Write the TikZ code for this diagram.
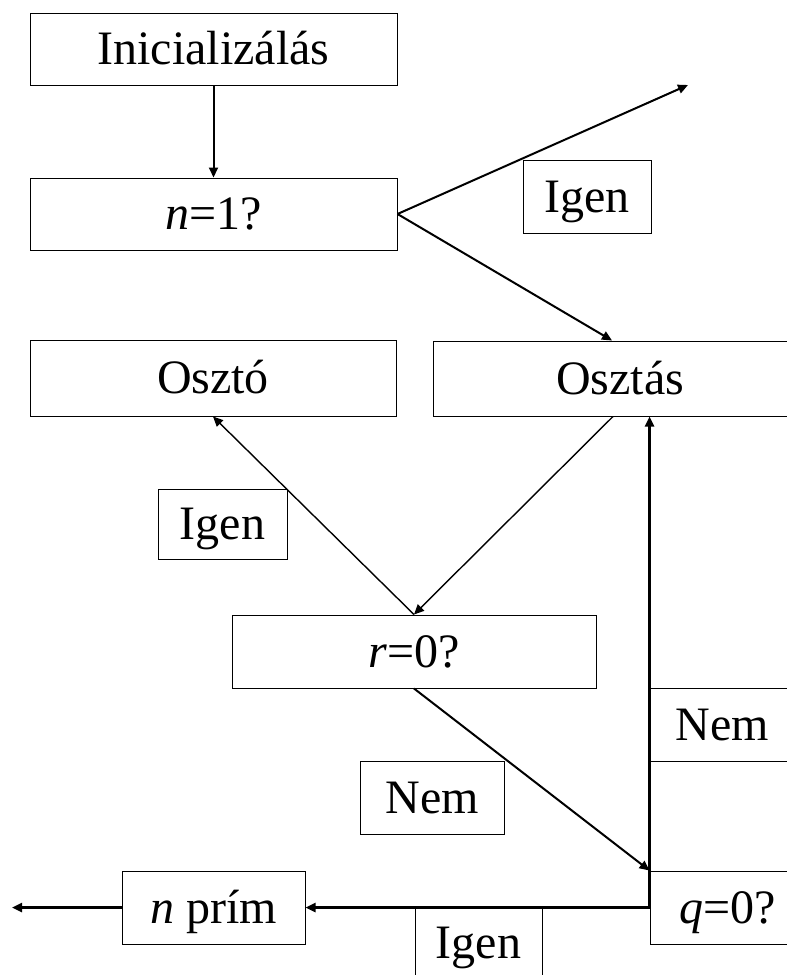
\documentclass[tikz,border=0pt]{standalone}
\usepackage{fontspec}
\setmainfont{Liberation Serif}
\usetikzlibrary{arrows.meta, calc}

\begin{document}
\begin{tikzpicture}[x=0.5pt, y=-0.5pt, font=\fontsize{24}{28}\selectfont,
  box/.style 2 args={draw, line width=0.5pt, inner sep=0pt, minimum width=#1*0.5pt,
    minimum height=#2*0.5pt, text height=15.9pt, text depth=0pt},
  flow/.style={-{Triangle[length=5pt,width=4.5pt]}, line width=1pt}]
\useasboundingbox (0,0) rectangle (787,975);
\clip (0,0) rectangle (787,975);
% boxes
\node[box={367}{72}] (init) at (213.5,49) {Inicializálás};
\node[box={367}{72}] (n1) at (213.5,214) {\textit{n}=1?};
\node[box={128}{73}] (igenA) at (587,196.5) {Igen};
\node[box={366}{76}] (oszto) at (213,378) {Osztó};
\node[box={374}{75}] (oszt) at (620,378.5) {Osztás};
\node[box={129}{70}] (igenB) at (222.5,524) {Igen};
\node[box={364}{73}] (r0) at (414,651.5) {\textit{r}=0?};
\node[box={144}{73}] (nemA) at (722,724.5) {Nem};
\node[box={144}{73}] (nemB) at (432,797.5) {Nem};
\node[box={156}{73}] (q0) at (728,907.5) {\textit{q}=0?};
\node[box={183}{73}] (nprim) at (213.5,907.5) {\textit{n} prím};
\node[box={127}{72}] (igenC) at (478.5,943) {Igen};
\coordinate (out) at (688,85);
\coordinate (exit) at (12,907.5);
% connectors
\draw[flow] (init) -- (n1);
\draw[flow] (n1.east) -- (out);
\draw[flow] (n1.east) -- ($(oszt.north)+(-8,0)$);
\draw[flow, line width=0.7pt] ($(oszt.south)+(-7,0)$) -- (r0.north);
\draw[flow, line width=0.7pt] (r0.north) -- (oszto.south);
\draw[flow] (r0.south) -- (q0.north west);
\draw[flow, line width=1.2pt] (q0.west) -- (q0.west |- oszt.south);
\draw[flow, line width=1.2pt] (q0.west) -- (nprim.east);
\draw[flow, line width=1.2pt] (nprim.west) -- (exit);
\end{tikzpicture}
\end{document}
